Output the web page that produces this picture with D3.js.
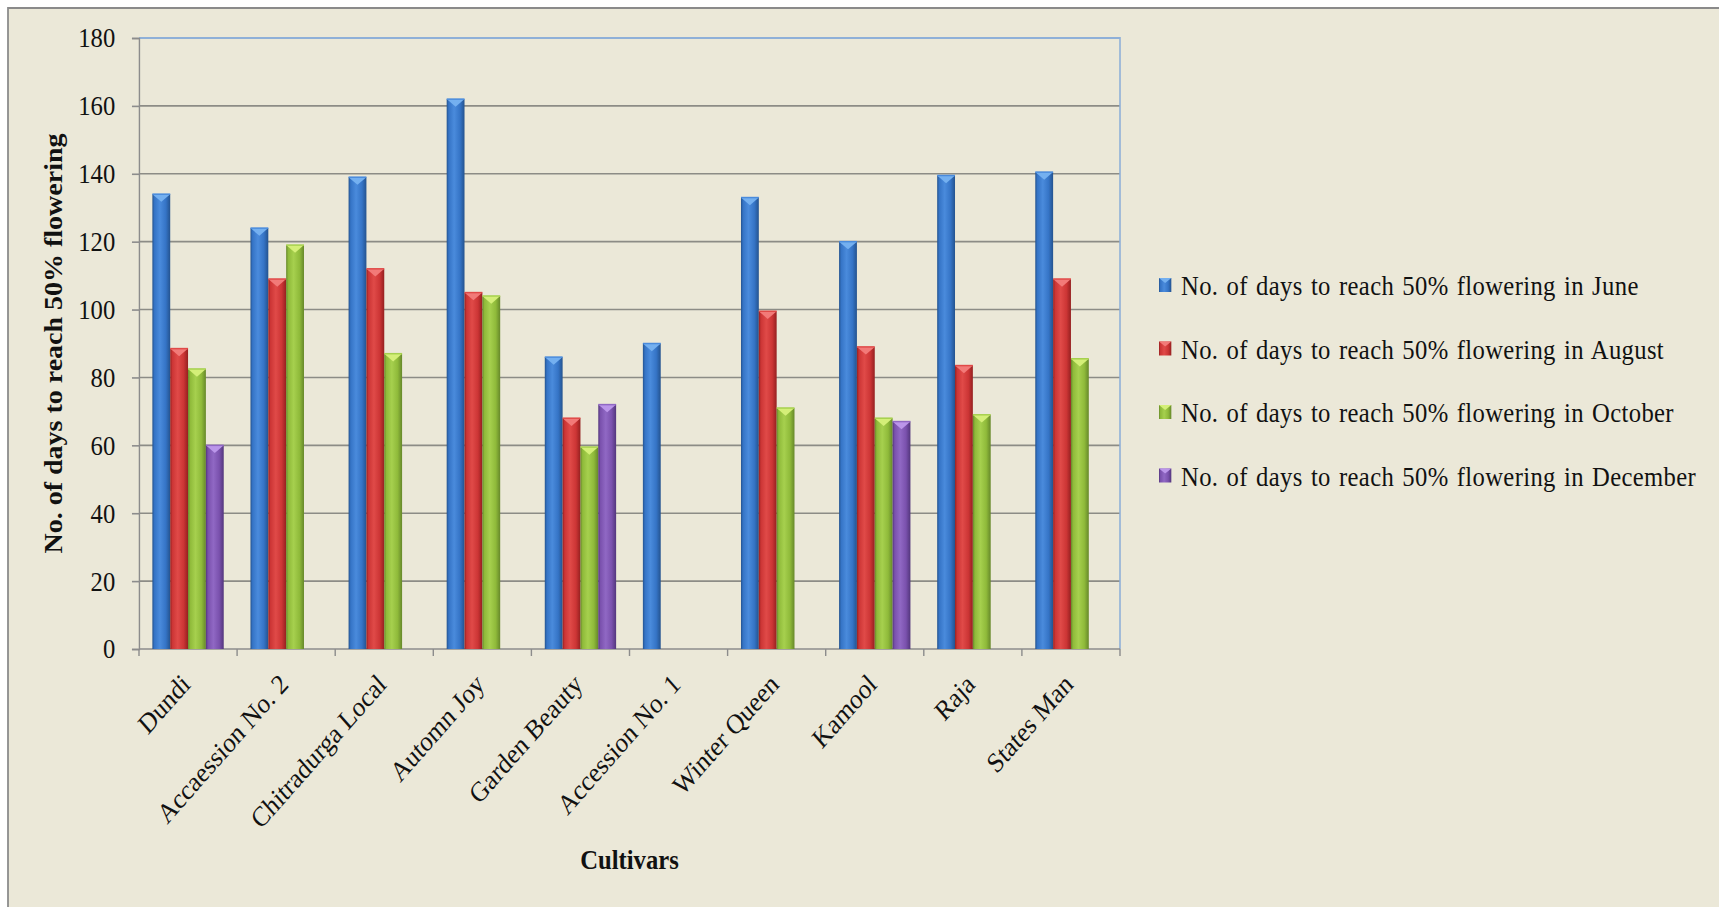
<!DOCTYPE html>
<html>
<head>
<meta charset="utf-8">
<script src="https://cdn.jsdelivr.net/npm/d3@7"></script>
<style>
  html, body { margin: 0; padding: 0; background: #ffffff; }
  svg { display: block; }
  text { font-family: "Liberation Serif", "Times New Roman", serif; fill: #111; }
</style>
</head>
<body>
<svg id="chart" width="1719" height="907"></svg>
<script>
// Cultivars on the x axis
const categories = ["Dundi", "Accaession No. 2", "Chitradurga Local", "Automn Joy", "Garden Beauty",
                    "Accession No. 1", "Winter Queen", "Kamool", "Raja", "States Man"];

// Days to reach 50% flowering, one array per planting month (null = not recorded)
const juneDays     = [134, 124, 139, 162, 86, 90, 133, 120, 139.5, 140.5];
const augustDays   = [88.5, 109, 112, 105, 68, null, 99.5, 89, 83.5, 109];
const octoberDays  = [82.5, 119, 87, 104, 59.5, null, 71, 68, 69, 85.5];
const decemberDays = [60, null, null, null, 72, null, null, 67, null, null];

const seriesNames = [
  "No. of days to reach 50% flowering in June",
  "No. of days to reach 50% flowering in August",
  "No. of days to reach 50% flowering in October",
  "No. of days to reach 50% flowering in December"
];
const yTicks = [0, 20, 40, 60, 80, 100, 120, 140, 160, 180];

const seriesValues = [juneDays, augustDays, octoberDays, decemberDays];

// Shading for the bevelled bars: edge / mid / light / highlight
const palette = [
  { edge: "#24538f", mid: "#3574c6", light: "#4a8bdc", tip: "#74b0f0" },
  { edge: "#952020", mid: "#cc3535", light: "#e04a48", tip: "#f27a78" },
  { edge: "#66882a", mid: "#8fba3a", light: "#a6d04e", tip: "#d4ef78" },
  { edge: "#53367c", mid: "#7a51ad", light: "#9068c4", tip: "#bb96ea" }
];

// The whole drawing is laid out on a wider canvas and condensed horizontally
const SX = 0.88;
const W = 1719 / SX, H = 907;

const svg = d3.select("#chart");
const defs = svg.append("defs");

palette.forEach((c, i) => {
  const g = defs.append("linearGradient").attr("id", "bar" + i)
    .attr("x1", "0%").attr("x2", "100%").attr("y1", "0%").attr("y2", "0%");
  [[0, c.edge], [0.12, c.mid], [0.42, c.light], [0.75, c.mid], [1, c.edge]].forEach(([o, col]) =>
    g.append("stop").attr("offset", o).attr("stop-color", col));
});

const root = svg.append("g").attr("transform", `scale(${SX},1)`);

// chart area frame
root.append("rect")
  .attr("x", 8 / SX).attr("y", 8)
  .attr("width", W).attr("height", H)
  .attr("fill", "#ebe8d8")
  .attr("stroke", "#8a8a8a").attr("stroke-width", 2);

const plotLeft = 139 / SX, plotRight = 1120 / SX, plotTop = 38, plotBottom = 649;

const x = d3.scaleBand().domain(categories).range([plotLeft, plotRight]).padding(0);
const xSub = d3.scaleBand().domain(d3.range(4)).range([0, x.bandwidth()])
  .paddingInner(0).paddingOuter(0.75);
const y = d3.scaleLinear().domain([0, 180]).range([plotBottom, plotTop]);

// horizontal gridlines
root.append("g").selectAll("line")
  .data(yTicks.filter(t => t > 0 && t < 180))
  .join("line")
  .attr("x1", plotLeft).attr("x2", plotRight)
  .attr("y1", d => y(d)).attr("y2", d => y(d))
  .attr("stroke", "#8c8c86").attr("stroke-width", 1.6);

// plot area outline: top and right edges
root.append("path")
  .attr("d", `M${plotLeft},${y(180)}H${plotRight}V${plotBottom}`)
  .attr("fill", "none").attr("stroke", "#8fb0d8").attr("stroke-width", 1.8);

// y axis
const yAxis = root.append("g").attr("transform", `translate(${plotLeft},0)`)
  .call(d3.axisLeft(y).tickValues(yTicks).tickSize(8).tickPadding(19));
yAxis.select(".domain").attr("stroke", "#8c8c8c").attr("stroke-width", 1.6);
yAxis.selectAll(".tick line").attr("stroke", "#8c8c8c").attr("stroke-width", 1.6);
yAxis.selectAll(".tick text")
  .attr("font-size", 28).attr("font-family", "Liberation Serif, serif").attr("fill", "#111");

// x axis
const xAxis = root.append("g").attr("transform", `translate(0,${plotBottom})`);
xAxis.append("line").attr("x1", plotLeft).attr("x2", plotRight)
  .attr("stroke", "#8c8c8c").attr("stroke-width", 1.6);
xAxis.selectAll(".xt")
  .data(d3.range(categories.length + 1))
  .join("line").attr("class", "xt")
  .attr("x1", i => plotLeft + i * x.step()).attr("x2", i => plotLeft + i * x.step())
  .attr("y1", 0).attr("y2", 7)
  .attr("stroke", "#8c8c8c").attr("stroke-width", 1.6);
xAxis.selectAll(".xl")
  .data(categories)
  .join("text").attr("class", "xl")
  .attr("transform", d => `translate(${x(d) + x.bandwidth() / 2 - 3},30) rotate(-45)`)
  .attr("text-anchor", "end").attr("dy", "0.35em")
  .attr("font-size", 28)
  .text(d => d);

// bars
const barData = [];
categories.forEach((c, ci) => {
  seriesValues.forEach((vals, si) => {
    if (vals[ci] != null) barData.push({ cat: c, s: si, v: vals[ci] });
  });
});

const bars = root.append("g").selectAll("g").data(barData).join("g");
bars.append("rect")
  .attr("x", d => x(d.cat) + xSub(d.s))
  .attr("y", d => y(d.v))
  .attr("width", xSub.bandwidth())
  .attr("height", d => y(0) - y(d.v))
  .attr("fill", d => `url(#bar${d.s})`);
bars.append("path")
  .attr("d", d => {
    const x0 = x(d.cat) + xSub(d.s), w = xSub.bandwidth(), t = y(d.v);
    return `M${x0},${t}H${x0 + w}L${x0 + w / 2},${t + w * 0.38}Z`;
  })
  .attr("fill", d => palette[d.s].tip);
bars.append("line")
  .attr("x1", d => x(d.cat) + xSub(d.s)).attr("x2", d => x(d.cat) + xSub(d.s) + xSub.bandwidth())
  .attr("y1", d => y(d.v)).attr("y2", d => y(d.v))
  .attr("stroke", d => palette[d.s].light).attr("stroke-width", 1.5);

// axis titles
root.append("text")
  .attr("transform", `translate(70,${(plotTop + plotBottom) / 2}) rotate(-90)`)
  .attr("text-anchor", "middle").attr("font-size", 28).attr("font-weight", "bold")
  .text("No. of days to reach 50% flowering");

root.append("text")
  .attr("x", (plotLeft + plotRight) / 2).attr("y", 869)
  .attr("text-anchor", "middle").attr("font-size", 28).attr("font-weight", "bold")
  .text("Cultivars");

// legend
const legend = root.append("g").attr("transform", `translate(${1159 / SX},0)`);
const legRows = legend.selectAll("g").data(seriesNames).join("g")
  .attr("transform", (d, i) => `translate(0,${285 + i * 63.5})`);
legRows.append("rect")
  .attr("x", 0).attr("y", -7).attr("width", 14).attr("height", 14)
  .attr("fill", (d, i) => `url(#bar${i})`);
legRows.append("path")
  .attr("d", "M0,-7H14L7,-2Z")
  .attr("fill", (d, i) => palette[i].tip);
legRows.append("text")
  .attr("x", 25).attr("y", 10)
  .attr("font-size", 28)
  .attr("letter-spacing", 0.4).attr("word-spacing", 2)
  .text(d => d);
</script>
</body>
</html>
